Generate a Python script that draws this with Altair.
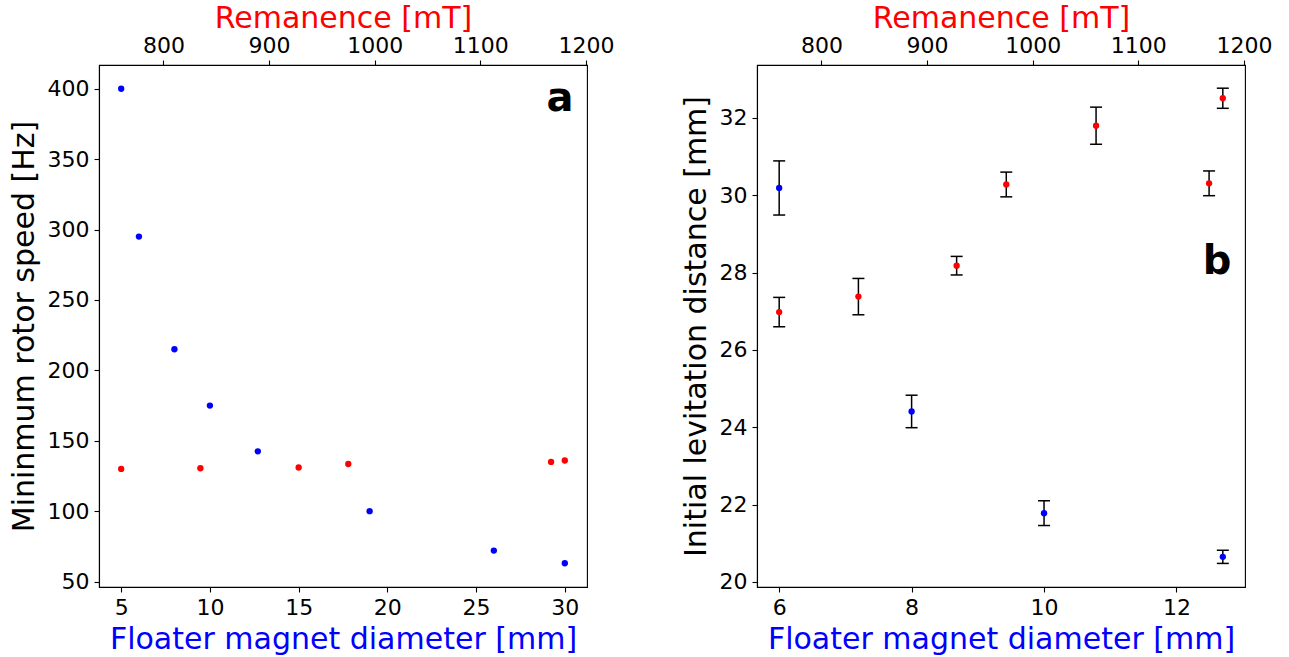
import altair as alt
import pandas as pd

FONT = "DejaVu Sans"

# ---- Panel a data ----
diam_a = [5, 6, 8, 10, 12.7, 19, 26, 30]
speed_blue = [400, 295, 215, 175, 142.5, 100, 72, 63]
rem_a = [760, 835, 928, 975, 1167, 1180]
speed_red = [130, 130.5, 131, 133.5, 135, 136]

# ---- Panel b data ----
diam_b = [6, 8, 10, 12.7]
lev_blue = [30.19, 24.41, 21.78, 20.65]
err_blue = [0.70, 0.42, 0.32, 0.17]
rem_b = [760, 835, 928, 975, 1060, 1167, 1180]
lev_red = [26.98, 27.38, 28.18, 30.28, 31.80, 30.31, 32.51]
err_red = [0.38, 0.47, 0.24, 0.32, 0.48, 0.32, 0.26]

W, H = 488, 522


def ax(orient, values, title, title_color, title_pad=6):
    kw = dict(
        orient=orient, values=values, title=title, titleColor=title_color,
        titleFont=FONT, titleFontSize=30, titleFontWeight="normal",
        labelFont=FONT, labelFontSize=22, labelColor="black",
        tickSize=5, tickWidth=1.1, tickColor="black",
        domainColor="black", domainWidth=1.1, grid=False,
        labelPadding=5, titlePadding=title_pad, labelFlush=False,
        labelOverlap=False,
    )
    if orient == "top":
        kw["format"] = "d"
        kw["labelPadding"] = 3
    return alt.Axis(**kw)


def sc(lo, hi):
    return alt.Scale(domain=[lo, hi], nice=False, zero=False)


# ---------------- Panel a ----------------
df_ab = pd.DataFrame({"d": diam_a, "s": speed_blue})
df_ar = pd.DataFrame({"r": rem_a, "s": speed_red})

ya = alt.Y("s:Q", scale=sc(46.15, 416.85),
           axis=ax("left", [50, 100, 150, 200, 250, 300, 350, 400],
                   "Mininmum rotor speed [Hz]", "black", 8))

blue_a = alt.Chart(df_ab).mark_circle(size=40, color="#0000ff", opacity=1).encode(
    x=alt.X("d:Q", scale=sc(3.75, 31.25),
            axis=ax("bottom", [5, 10, 15, 20, 25, 30], "Floater magnet diameter [mm]", "#0000ff")),
    y=ya,
)
red_a = alt.Chart(df_ar).mark_circle(size=40, color="#ff0000", opacity=1).encode(
    x=alt.X("r:Q", scale=sc(739, 1201),
            axis=ax("top", [800, 900, 1000, 1100, 1200], "Remanence [mT]", "#ff0000", 1)),
    y=ya,
)
lab_a = alt.Chart(pd.DataFrame({"t": ["a"]})).mark_text(
    font=FONT, fontSize=40, fontWeight="bold", color="black", align="center", baseline="alphabetic"
).encode(x=alt.value(461), y=alt.value(46), text="t:N")

panel_a = alt.layer(blue_a, red_a, lab_a).resolve_scale(x="independent").properties(width=W, height=H)

# ---------------- Panel b ----------------
df_bb = pd.DataFrame({"d": diam_b, "v": lev_blue, "e": err_blue})
df_bb["lo"] = df_bb["v"] - df_bb["e"]
df_bb["hi"] = df_bb["v"] + df_bb["e"]
df_br = pd.DataFrame({"r": rem_b, "v": lev_red, "e": err_red})
df_br["lo"] = df_br["v"] - df_br["e"]
df_br["hi"] = df_br["v"] + df_br["e"]

ysc_b = sc(19.87, 33.37)
yax_b = ax("left", [20, 22, 24, 26, 28, 30, 32], "Initial levitation distance [mm]", "black", 8)
xsc_bb = sc(5.665, 13.035)
xsc_br = sc(739, 1201)


def errlayers(df, xfield, xscale):
    base = alt.Chart(df)
    rule = base.mark_rule(color="black", strokeWidth=1.5).encode(
        x=alt.X(f"{xfield}:Q", scale=xscale, axis=None),
        y=alt.Y("lo:Q", scale=ysc_b, axis=yax_b),
        y2="hi:Q",
    )
    cap_lo = base.mark_tick(color="black", orient="horizontal", size=12, thickness=1.5, opacity=1).encode(
        x=alt.X(f"{xfield}:Q", scale=xscale, axis=None),
        y=alt.Y("lo:Q", scale=ysc_b, axis=yax_b),
    )
    cap_hi = base.mark_tick(color="black", orient="horizontal", size=12, thickness=1.5, opacity=1).encode(
        x=alt.X(f"{xfield}:Q", scale=xscale, axis=None),
        y=alt.Y("hi:Q", scale=ysc_b, axis=yax_b),
    )
    return [rule, cap_lo, cap_hi]


blue_b = alt.Chart(df_bb).mark_circle(size=40, color="#0000ff", opacity=1).encode(
    x=alt.X("d:Q", scale=xsc_bb,
            axis=ax("bottom", [6, 8, 10, 12], "Floater magnet diameter [mm]", "#0000ff")),
    y=alt.Y("v:Q", scale=ysc_b, axis=yax_b),
)
red_b = alt.Chart(df_br).mark_circle(size=40, color="#ff0000", opacity=1).encode(
    x=alt.X("r:Q", scale=xsc_br,
            axis=ax("top", [800, 900, 1000, 1100, 1200], "Remanence [mT]", "#ff0000", 1)),
    y=alt.Y("v:Q", scale=ysc_b, axis=yax_b),
)
lab_b = alt.Chart(pd.DataFrame({"t": ["b"]})).mark_text(
    font=FONT, fontSize=40, fontWeight="bold", color="black", align="center", baseline="alphabetic"
).encode(x=alt.value(460), y=alt.value(209), text="t:N")

panel_b = alt.layer(
    *errlayers(df_bb, "d", xsc_bb), blue_b,
    *errlayers(df_br, "r", xsc_br), red_b,
    lab_b,
).resolve_scale(x="independent").properties(width=W, height=H)

chart = alt.hconcat(panel_a, panel_b, spacing=170, bounds="flush").properties(
    padding={"left": 8, "top": 2, "right": 5, "bottom": 0},
    background="white",
).configure_view(stroke="black", strokeWidth=1.1)

chart.save("out.html", embed_options={"renderer": "svg", "actions": False})
